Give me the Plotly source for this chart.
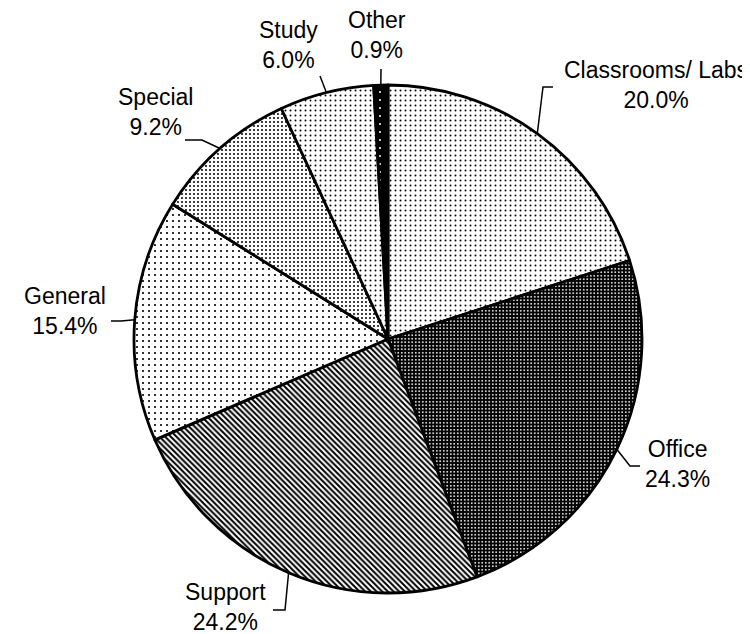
import math
import plotly.graph_objects as go

# ---- data ----
categories = ["Classrooms/ Labs", "Office", "Support", "General", "Special", "Study", "Other"]
shares = [20.0, 24.3, 24.2, 15.4, 9.2, 6.0, 0.9]

# ---- styles ----
W, H = 750, 634
CX, CY, R = 380, 331, 254
pattern_shapes = [".", ".", "\\", ".", ".", ".", "."]
pattern_fg = ["black", "white", "black", "black", "black", "black", "white"]
pattern_bg = ["white", "black", "white", "white", "white", "white", "black"]
pattern_size = [5, 3.5, 4, 6, 4, 5, 8]
pattern_solidity = [0.12, 0.22, 0.5, 0.1, 0.2, 0.12, 0.05]

# label layout: text centre (px) and leader points (px)
label_pos = [(648, 77), (669, 456), (217, 599), (57, 303), (147, 104), (280, 37), (369, 27)]
leader_start = [(545, 79), (632, 458), (265, 602), (103, 313), (177, 132), (312, 68), (373, 61)]
leader_elbow = [(535, 79), (622, 458), (277, 602), (113, 313), (194, 132), None, None]
FONT = dict(family="Liberation Sans, Arial, sans-serif", size=23, color="black")


def px2paper(x, y):
    return x / W, 1 - y / H


fig = go.Figure(go.Pie(
    labels=categories,
    values=shares,
    sort=False,
    direction="clockwise",
    rotation=0,
    textinfo="none",
    hoverinfo="label+percent",
    showlegend=False,
    domain=dict(x=[(CX - R) / W, (CX + R) / W], y=[1 - (CY + R) / H, 1 - (CY - R) / H]),
    marker=dict(
        colors=pattern_bg,
        line=dict(color="black", width=2.8),
        pattern=dict(shape=pattern_shapes, fgcolor=pattern_fg, bgcolor=pattern_bg,
                     size=pattern_size, solidity=pattern_solidity, fillmode="replace"),
    ),
))

total = sum(shares)
cum = 0.0
annotations = []
shapes = []
for i, (cat, v) in enumerate(zip(categories, shares)):
    mid = (cum + v / 2) / total * 2 * math.pi
    cum += v
    ex, ey = CX + R * math.sin(mid), CY - R * math.cos(mid)
    pts = [leader_start[i]]
    if leader_elbow[i] is not None:
        pts.append(leader_elbow[i])
    pts.append((ex, ey))
    path = ""
    for j, (x, y) in enumerate(pts):
        xp, yp = px2paper(x, y)
        path += ("M" if j == 0 else "L") + f"{xp},{yp} "
    shapes.append(dict(type="path", path=path.strip(), xref="paper", yref="paper",
                       line=dict(color="black", width=1.5)))
    lx, ly = px2paper(*label_pos[i])
    annotations.append(dict(text=f"{cat}<br>{v / total * 100:.1f}%", x=lx, y=ly,
                            xref="paper", yref="paper", xanchor="center", yanchor="middle",
                            showarrow=False, font=FONT, align="center"))

fig.update_layout(
    width=W, height=H,
    margin=dict(l=0, r=0, t=0, b=0),
    paper_bgcolor="white", plot_bgcolor="white",
    annotations=annotations, shapes=shapes,
)
fig.write_html("out.html")
